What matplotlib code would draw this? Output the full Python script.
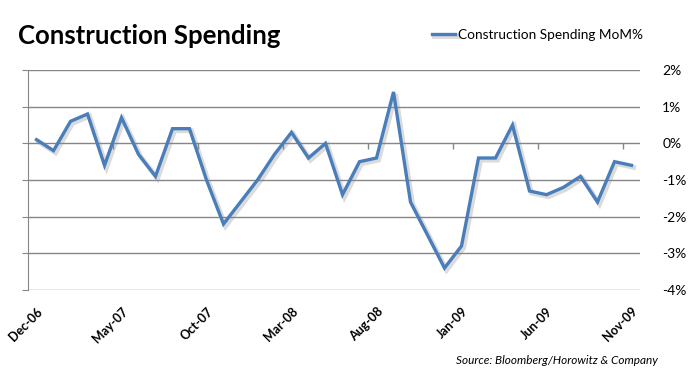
"""
Construction spending, month-on-month % change (Dec-06 .. Nov-09)
"""
import matplotlib
matplotlib.use('Agg')
import matplotlib.pyplot as plt
import matplotlib.patheffects as pe
import numpy as np

# monthly MoM % values, Dec-06 .. Nov-09
mom = [0.1, -0.2, 0.6, 0.8, -0.6, 0.7, -0.3, -0.9, 0.4, 0.4,
       -1.0, -2.2, -1.6, -1.0, -0.3, 0.3, -0.4, 0.0, -1.4, -0.5,
       -0.4, 1.4, -1.6, -2.5, -3.4, -2.8, -0.4, -0.4, 0.5, -1.3,
       -1.4, -1.2, -0.9, -1.6, -0.5, -0.6]
month_labels = ['Dec-06', 'May-07', 'Oct-07', 'Mar-08', 'Aug-08',
                'Jan-09', 'Jun-09', 'Nov-09']
y_ticks = [2, 1, 0, -1, -2, -3, -4]

plt.rcParams['font.family'] = ['Lato', 'DejaVu Sans']

blue = '#4a7ebb'
grid = '#868686'

fig = plt.figure(figsize=(6.94, 3.81), dpi=100)
ax = fig.add_axes([28 / 694, 1 - 290 / 381, 612 / 694, 220 / 381])

x = np.arange(len(mom))
line, = ax.plot(x, mom, color=blue, lw=2.4, solid_joinstyle='miter',
                label='Construction Spending MoM%')
line.set_path_effects([pe.SimpleLineShadow(offset=(1.5, -1.5), shadow_color='#888888',
                                           alpha=0.3, linewidth=3.5),
                       pe.Normal()])

ax.set_xlim(-0.5, len(mom) - 0.5)
ax.set_ylim(-4, 2)

ax.set_yticks(y_ticks)
ax.set_yticklabels(['%d%%' % v for v in y_ticks])
ax.yaxis.grid(True, color=grid, lw=1)
ax.set_axisbelow(True)
ax.tick_params(axis='y', left=True, right=False, labelleft=False, labelright=True,
               length=4, color=grid, labelsize=10, pad=12)

ax.set_xticks(x[::5])
ax.set_xticklabels(month_labels, rotation=45, ha='right', rotation_mode='anchor',
                   fontweight='bold', fontsize=9)
ax.tick_params(axis='x', length=0, pad=11)

for s in ['top', 'right', 'bottom']:
    ax.spines[s].set_visible(False)
ax.spines['left'].set_color(grid)

# tick marks hanging below the 0% line
sec = ax.secondary_xaxis(4 / 6)
sec.set_xticks(x[4:-1:5] + 0.5)
sec.set_xticklabels([])
sec.tick_params(length=4, width=1, color=grid, direction='in')
for s in sec.spines.values():
    s.set_visible(False)

fig.text(18 / 694, 1 - 36 / 381, 'Construction Spending', fontsize=18.5,
         fontweight='bold', va='center', ha='left')
fig.legend(handles=[line], loc='center left', bbox_to_anchor=(420 / 694, 1 - 35 / 381),
           frameon=False, fontsize=9.8, handlelength=1.7, handletextpad=0.2)
fig.text(658 / 694, 1 - 360 / 381, 'Source: Bloomberg/Horowitz & Company',
         fontsize=8.5, style='italic', ha='right', va='center')

fig.savefig('out.png', dpi=100)
